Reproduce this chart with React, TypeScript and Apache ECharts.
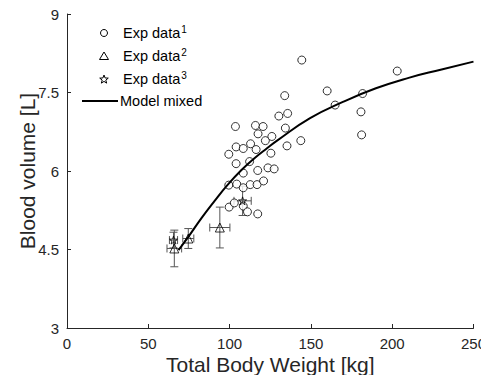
import React, { useEffect, useRef } from "react";
import * as echarts from "echarts";

// Exp data 1 (circles)
const exp1Weight = [144.4, 203.1, 133.9, 160, 164.9, 181.8, 180.8, 181.2, 130.3, 135.7, 134.3, 135.3, 143.8, 103.6, 115.9, 120.6, 117.5, 122, 126, 104, 108.4, 112.9, 116.3, 99.5, 125.4, 104, 112.3, 108.4, 117.3, 123.6, 127.4, 99.5, 104.4, 108.4, 112.7, 116.9, 120.9, 99.7, 102.9, 108.4, 111, 117.3];
const exp1Volume = [8.12, 7.91, 7.44, 7.53, 7.26, 7.48, 7.13, 6.69, 7.05, 7.10, 6.82, 6.48, 6.58, 6.85, 6.87, 6.85, 6.71, 6.58, 6.66, 6.46, 6.43, 6.52, 6.41, 6.32, 6.34, 6.14, 6.18, 5.96, 6.01, 6.06, 6.04, 5.73, 5.75, 5.68, 5.74, 5.74, 5.81, 5.31, 5.39, 5.33, 5.22, 5.18];

// Exp data 2 (triangles) with error bars
const exp2Weight = [66, 74.6, 94];
const exp2Volume = [4.52, 4.71, 4.92];
const exp2WeightErr = [4.5, 3.4, 6.2];
const exp2VolumeErr = [0.35, 0.19, 0.39];

// Exp data 3 (stars) with error bars
const exp3Weight = [65.5, 108];
const exp3Volume = [4.68, 5.43];
const exp3WeightErr = [2.5, 5.3];
const exp3VolumeErr = [0.15, 0.28];

// Model mixed curve
const modelWeight = [68.6, 74.6, 82.7, 90.8, 98.9, 107, 115.1, 123.2, 129.2, 149.5, 169.7, 190, 210.1, 230.4, 250];
const modelVolume = [4.49, 4.74, 5.10, 5.43, 5.74, 6.01, 6.24, 6.44, 6.58, 7.01, 7.32, 7.58, 7.78, 7.94, 8.09];

const xTicks = [0, 50, 100, 150, 200, 250];
const yTicks = [3, 4.5, 6, 7.5, 9];

const FONT = "'Liberation Sans', Arial, sans-serif";
const AX = "#262626";
const STAR = "path://M0,-10L2.35,-3.24L9.51,-3.09L3.8,1.24L5.88,8.09L0,4L-5.88,8.09L-3.8,1.24L-9.51,-3.09L-2.35,-3.24Z";

function starPoints(cx: number, cy: number, R: number, r: number) {
  const pts: number[][] = [];
  for (let i = 0; i < 10; i++) {
    const a = -Math.PI / 2 + (i * Math.PI) / 5;
    const rad = i % 2 === 0 ? R : r;
    pts.push([cx + rad * Math.cos(a), cy + rad * Math.sin(a)]);
  }
  return pts;
}

const errorBarRender = (params: any, api: any) => {
  const x = api.value(0);
  const y = api.value(1);
  const xe = api.value(2);
  const ye = api.value(3);
  const l = api.coord([x - xe, y]);
  const r = api.coord([x + xe, y]);
  const t = api.coord([x, y + ye]);
  const b = api.coord([x, y - ye]);
  const c = 4;
  const style = { stroke: "#555", lineWidth: 1 };
  const ln = (x1: number, y1: number, x2: number, y2: number) => ({
    type: "line",
    shape: { x1, y1, x2, y2 },
    style,
  });
  return {
    type: "group",
    children: [
      ln(t[0], t[1], b[0], b[1]),
      ln(t[0] - c, t[1], t[0] + c, t[1]),
      ln(b[0] - c, b[1], b[0] + c, b[1]),
      ln(l[0], l[1], r[0], r[1]),
      ln(l[0], l[1] - c, l[0], l[1] + c),
      ln(r[0], r[1] - c, r[0], r[1] + c),
    ],
  };
};

export default function App() {
  const ref = useRef<HTMLDivElement>(null);
  useEffect(() => {
    if (!ref.current) return;
    const chart = echarts.init(ref.current, undefined, { renderer: "svg" });
    const legendText = (label: string, sup: string) =>
      sup ? `{a|${label}}{s|${sup}}` : `{a|${label}}`;
    const rich = {
      a: { fontSize: 14.5, fontFamily: FONT, color: "#000" },
      s: { fontSize: 10, fontFamily: FONT, color: "#000", verticalAlign: "top", padding: [0, 0, 8, 1] },
    };
    const lx = 104;
    const tx = 123;
    const rows = [33, 56, 79, 101];
    chart.setOption({
      animation: false,
      grid: { left: 67, right: 11, top: 14, bottom: 55, containLabel: false },
      xAxis: {
        type: "value",
        min: xTicks[0],
        max: xTicks[xTicks.length - 1],
        interval: 50,
        name: "Total Body Weight [kg]",
        nameLocation: "middle",
        nameGap: 26,
        nameMoveOverlap: false,
        nameTextStyle: { fontSize: 21, fontFamily: FONT, color: AX },
        axisLine: { show: true, lineStyle: { color: AX, width: 1 } },
        axisTick: { show: true, inside: true, length: 4, lineStyle: { color: AX } },
        axisLabel: { fontSize: 15, fontFamily: FONT, color: AX, margin: 8 },
        splitLine: { show: false },
      },
      yAxis: {
        type: "value",
        min: yTicks[0],
        max: yTicks[yTicks.length - 1],
        interval: 1.5,
        name: "Blood volume [L]",
        nameLocation: "middle",
        nameGap: 29,
        nameMoveOverlap: false,
        nameTextStyle: { fontSize: 21, fontFamily: FONT, color: AX },
        axisLine: { show: true, lineStyle: { color: AX, width: 1 } },
        axisTick: { show: true, inside: true, length: 4, lineStyle: { color: AX } },
        axisLabel: { fontSize: 15, fontFamily: FONT, color: AX, margin: 8 },
        splitLine: { show: false },
      },
      series: [
        {
          type: "custom",
          name: "err2",
          renderItem: errorBarRender,
          encode: { x: 0, y: 1 },
          data: exp2Weight.map((w, i) => [w, exp2Volume[i], exp2WeightErr[i], exp2VolumeErr[i]]),
          z: 1,
        },
        {
          type: "custom",
          name: "err3",
          renderItem: errorBarRender,
          encode: { x: 0, y: 1 },
          data: exp3Weight.map((w, i) => [w, exp3Volume[i], exp3WeightErr[i], exp3VolumeErr[i]]),
          z: 1,
        },
        {
          type: "scatter",
          name: "Exp data 1",
          symbol: "circle",
          symbolSize: 8,
          itemStyle: { color: "#fff", borderColor: "#000", borderWidth: 1 },
          data: exp1Weight.map((w, i) => [w, exp1Volume[i]]),
          z: 2,
        },
        {
          type: "scatter",
          name: "Exp data 2",
          symbol: "triangle",
          symbolSize: 9,
          itemStyle: { color: "none", borderColor: "#000", borderWidth: 1 },
          data: exp2Weight.map((w, i) => [w, exp2Volume[i]]),
          z: 3,
        },
        {
          type: "scatter",
          name: "Exp data 3",
          symbol: STAR,
          symbolSize: 8,
          itemStyle: { color: "none", borderColor: "#000", borderWidth: 1 },
          data: exp3Weight.map((w, i) => [w, exp3Volume[i]]),
          z: 3,
        },
        {
          type: "line",
          name: "Model mixed",
          smooth: 0.5,
          showSymbol: false,
          lineStyle: { color: "#000", width: 2 },
          data: modelWeight.map((w, i) => [w, modelVolume[i]]),
          z: 4,
        },
      ],
      graphic: [
        { type: "circle", shape: { cx: lx, cy: rows[0], r: 3.5 }, style: { fill: "#fff", stroke: "#000", lineWidth: 1 } },
        { type: "polygon", shape: { points: [[lx, rows[1] - 4], [lx + 4.5, rows[1] + 3.5], [lx - 4.5, rows[1] + 3.5]] }, style: { fill: "none", stroke: "#000", lineWidth: 1 } },
        { type: "polygon", shape: { points: starPoints(lx, rows[2] + 0.5, 4.5, 1.9) }, style: { fill: "none", stroke: "#000", lineWidth: 1 } },
        { type: "line", shape: { x1: 82, y1: rows[3], x2: 118, y2: rows[3] }, style: { stroke: "#000", lineWidth: 2 } },
        { type: "text", x: tx, y: rows[0], style: { text: legendText("Exp data", "1"), rich, verticalAlign: "middle" } },
        { type: "text", x: tx, y: rows[1], style: { text: legendText("Exp data", "2"), rich, verticalAlign: "middle" } },
        { type: "text", x: tx, y: rows[2], style: { text: legendText("Exp data", "3"), rich, verticalAlign: "middle" } },
        { type: "text", x: 120, y: rows[3], style: { text: legendText("Model mixed", ""), rich, verticalAlign: "middle" } },
      ],
    });
    return () => chart.dispose();
  }, []);
  return <div ref={ref} style={{ width: 489, height: 383, margin: -8 }} />;
}
